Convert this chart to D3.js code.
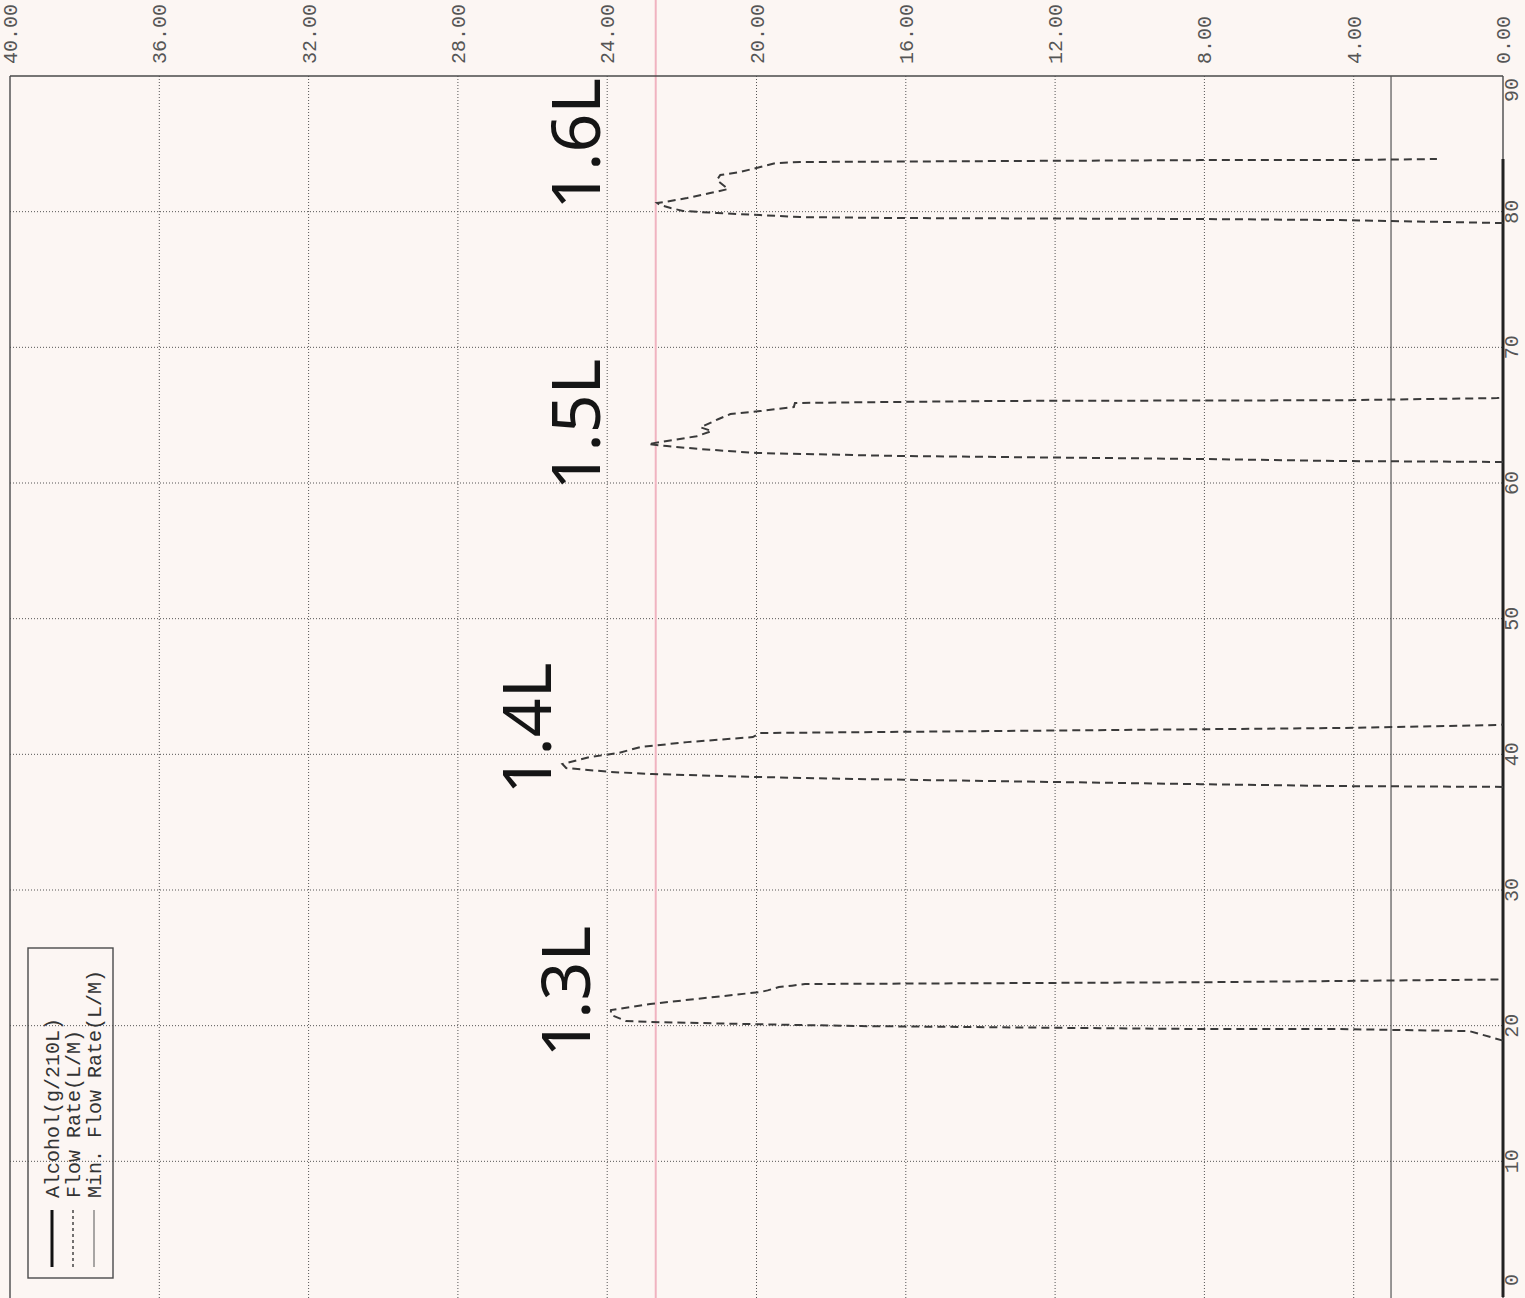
<!DOCTYPE html>
<html>
<head>
<meta charset="utf-8">
<script src="https://cdn.jsdelivr.net/npm/d3@7"></script>
<style>
  html, body { margin: 0; padding: 0; background: #fcf6f3; }
  svg { display: block; }
</style>
</head>
<body>
<svg id="chart" width="1525" height="1298"></svg>
<script>
// ---------- DATA ----------
const flowTicks = [0, 4, 8, 12, 16, 20, 24, 28, 32, 36, 40];
const timeTicks = [0, 10, 20, 30, 40, 50, 60, 70, 80, 90];

// Breath 1 (labelled 1.3L)
const breath1Time = [18.9, 19.6, 19.75, 19.75, 19.97, 20.1, 20.27, 20.34, 20.8, 21.15, 21.6, 22.48, 22.6, 22.85, 22.95, 23.07, 23.2, 23.4, 23.45];
const breath1Flow = [0, 0.9, 4.4, 8.1, 17.2, 19.9, 22.85, 23.5, 23.9, 23.9, 22.85, 19.9, 19.7, 19.4, 19.05, 18.7, 8.1, 0.16, 0];
// Breath 2 (labelled 1.4L)
const breath2Time = [37.6, 37.66, 37.8, 38.18, 38.33, 38.55, 38.7, 38.99, 39.29, 39.8, 40.1, 40.54, 40.9, 41.27, 41.57, 41.72, 41.94, 42.16, 42.2];
const breath2Flow = [0, 4.37, 8.1, 17.3, 20.0, 22.8, 23.9, 25.1, 25.2, 24.46, 23.7, 23.1, 21.86, 20.1, 19.9, 13.5, 4.37, 0.16, 0];
// Breath 3 (labelled 1.5L)
const breath3Time = [61.55, 61.62, 61.77, 61.99, 62.14, 62.21, 62.5, 62.72, 62.87, 63.45, 63.83, 64.1, 64.7, 65.08, 65.3, 65.6, 65.9, 66.05, 66.1, 66.26, 66.3];
const breath3Flow = [0, 4.37, 8.1, 16.15, 18.8, 19.98, 21.5, 22.4, 22.9, 21.6, 21.2, 21.5, 21.03, 20.7, 19.9, 19.0, 18.97, 13.47, 4.37, 0.16, 0];
// Breath 4 (labelled 1.6L)
const breath4Time = [79.16, 79.38, 79.46, 79.53, 79.6, 79.75, 79.9, 80.05, 80.27, 80.49, 80.64, 80.7, 81.0, 81.37, 81.67, 82.33, 82.7, 82.92, 83.29, 83.58, 83.66, 83.73, 83.8, 83.8, 83.88];
const breath4Flow = [0, 4.37, 8.12, 16.15, 18.83, 19.9, 21.06, 21.97, 22.3, 22.58, 22.66, 22.5, 21.86, 21.24, 20.76, 21.06, 20.97, 20.44, 19.9, 19.5, 18.83, 13.47, 8.12, 4.37, 1.77];

const alcoholTime = [0, 83.88];
const alcoholValue = [0, 0];
const minFlowRate = 3.0;
const markerFlow = 22.7;   // pink ruled line on the printout

const breathLabels = ["1.3L", "1.4L", "1.5L", "1.6L"];
const breathLabelTime = [22.5, 41.9, 64.3, 85.0];
const breathLabelFlow = [24.46, 25.5, 24.2, 24.2];

const legendLabels = ["Alcohol(g/210L)", "Flow Rate(L/M)", "Min. Flow Rate(L/M)"];

// ---------- SCALES ----------
const W = 1525, H = 1298;
const x = d3.scaleLinear().domain([0, 40]).range([1503, 10]);   // flow
const y = d3.scaleLinear().domain([0, 90]).range([1297, 76]);   // time

const svg = d3.select("#chart");
svg.append("rect").attr("width", W).attr("height", H).attr("fill", "#fcf6f3");

const ink = "#4a4a4a";

// ---------- GRID ----------
const grid = svg.append("g");
grid.selectAll("line.vg").data(flowTicks.filter(d => d > 0 && d < 40)).join("line")
  .attr("x1", d => x(d)).attr("x2", d => x(d))
  .attr("y1", y(90)).attr("y2", H)
  .attr("stroke", "#555").attr("stroke-width", 1).attr("stroke-dasharray", "1,2");
grid.selectAll("line.hg").data(timeTicks.filter(d => d > 0 && d < 90)).join("line")
  .attr("x1", x(40)).attr("x2", x(0))
  .attr("y1", d => y(d)).attr("y2", d => y(d))
  .attr("stroke", "#555").attr("stroke-width", 1).attr("stroke-dasharray", "1,2");

// pink ruled line
svg.append("line")
  .attr("x1", x(markerFlow)).attr("x2", x(markerFlow))
  .attr("y1", 0).attr("y2", H)
  .attr("stroke", "#f0b3c0").attr("stroke-width", 2);

// ---------- FRAME ----------
svg.append("line").attr("x1", x(40)).attr("x2", x(0)).attr("y1", y(90)).attr("y2", y(90))
  .attr("stroke", ink).attr("stroke-width", 1.6);
svg.append("line").attr("x1", x(40)).attr("x2", x(40)).attr("y1", y(90)).attr("y2", H)
  .attr("stroke", ink).attr("stroke-width", 1.4);
svg.append("line").attr("x1", x(0)).attr("x2", x(0)).attr("y1", y(90)).attr("y2", H)
  .attr("stroke", ink).attr("stroke-width", 1.4);

// min flow rate
svg.append("line").attr("x1", x(minFlowRate)).attr("x2", x(minFlowRate))
  .attr("y1", y(90)).attr("y2", H)
  .attr("stroke", "#555").attr("stroke-width", 1.2);

// ---------- TICK LABELS ----------
const fmt = d3.format(".2f");
svg.selectAll("text.ft").data(flowTicks).join("text")
  .attr("transform", d => `translate(${x(d) + 7},64) rotate(-90)`)
  .attr("text-anchor", "start")
  .attr("font-family", "Liberation Mono, DejaVu Sans Mono, monospace")
  .attr("font-size", 20).attr("fill", "#555")
  .text(d => fmt(d));

svg.selectAll("text.tt").data(timeTicks).join("text")
  .attr("transform", d => `translate(1518,${Math.max(90, Math.min(y(d), 1280))}) rotate(-90)`)
  .attr("text-anchor", "middle")
  .attr("font-family", "Liberation Mono, DejaVu Sans Mono, monospace")
  .attr("font-size", 20).attr("fill", "#555")
  .text(d => d);

// ---------- SERIES ----------
const line = d3.line().x(d => x(d[1])).y(d => y(d[0]));

// Alcohol
svg.append("path")
  .attr("d", line(d3.zip(alcoholTime, alcoholValue)))
  .attr("fill", "none").attr("stroke", "#222").attr("stroke-width", 3);

const breaths = [
  [breath1Time, breath1Flow],
  [breath2Time, breath2Flow],
  [breath3Time, breath3Flow],
  [breath4Time, breath4Flow]
];
svg.selectAll("path.flow").data(breaths).join("path")
  .attr("class", "flow")
  .attr("d", d => line(d3.zip(d[0], d[1])))
  .attr("fill", "none").attr("stroke", "#3a3a3a").attr("stroke-width", 2)
  .attr("stroke-dasharray", "8,5");

// ---------- HANDWRITTEN LABELS ----------
svg.selectAll("text.hw").data(breathLabels).join("text")
  .attr("transform", (d, i) => `translate(${x(breathLabelFlow[i])},${y(breathLabelTime[i])}) rotate(-90)`)
  .attr("text-anchor", "middle")
  .attr("font-family", "Noto Sans, DejaVu Sans, sans-serif")
  .attr("font-weight", 400)
  .attr("font-size", 68).attr("fill", "#151515")
  .text(d => d);

// ---------- LEGEND ----------
const lg = svg.append("g");
lg.append("rect").attr("x", 28).attr("y", 948).attr("width", 85).attr("height", 330)
  .attr("fill", "none").attr("stroke", ink).attr("stroke-width", 1.4);
const rowX = [59, 80, 101];
const sampleStyles = [
  { w: 3, dash: null, c: "#111" },
  { w: 1.5, dash: "3,3", c: "#444" },
  { w: 1, dash: null, c: "#555" }
];
legendLabels.forEach((lab, i) => {
  lg.append("line")
    .attr("x1", rowX[i] - 7).attr("x2", rowX[i] - 7)
    .attr("y1", 1210).attr("y2", 1267)
    .attr("stroke", sampleStyles[i].c).attr("stroke-width", sampleStyles[i].w)
    .attr("stroke-dasharray", sampleStyles[i].dash);
  lg.append("text")
    .attr("transform", `translate(${rowX[i]},1198) rotate(-90)`)
    .attr("text-anchor", "start")
    .attr("font-family", "Liberation Mono, DejaVu Sans Mono, monospace")
    .attr("font-size", 20).attr("fill", "#333")
    .text(lab);
});
</script>
</body>
</html>
